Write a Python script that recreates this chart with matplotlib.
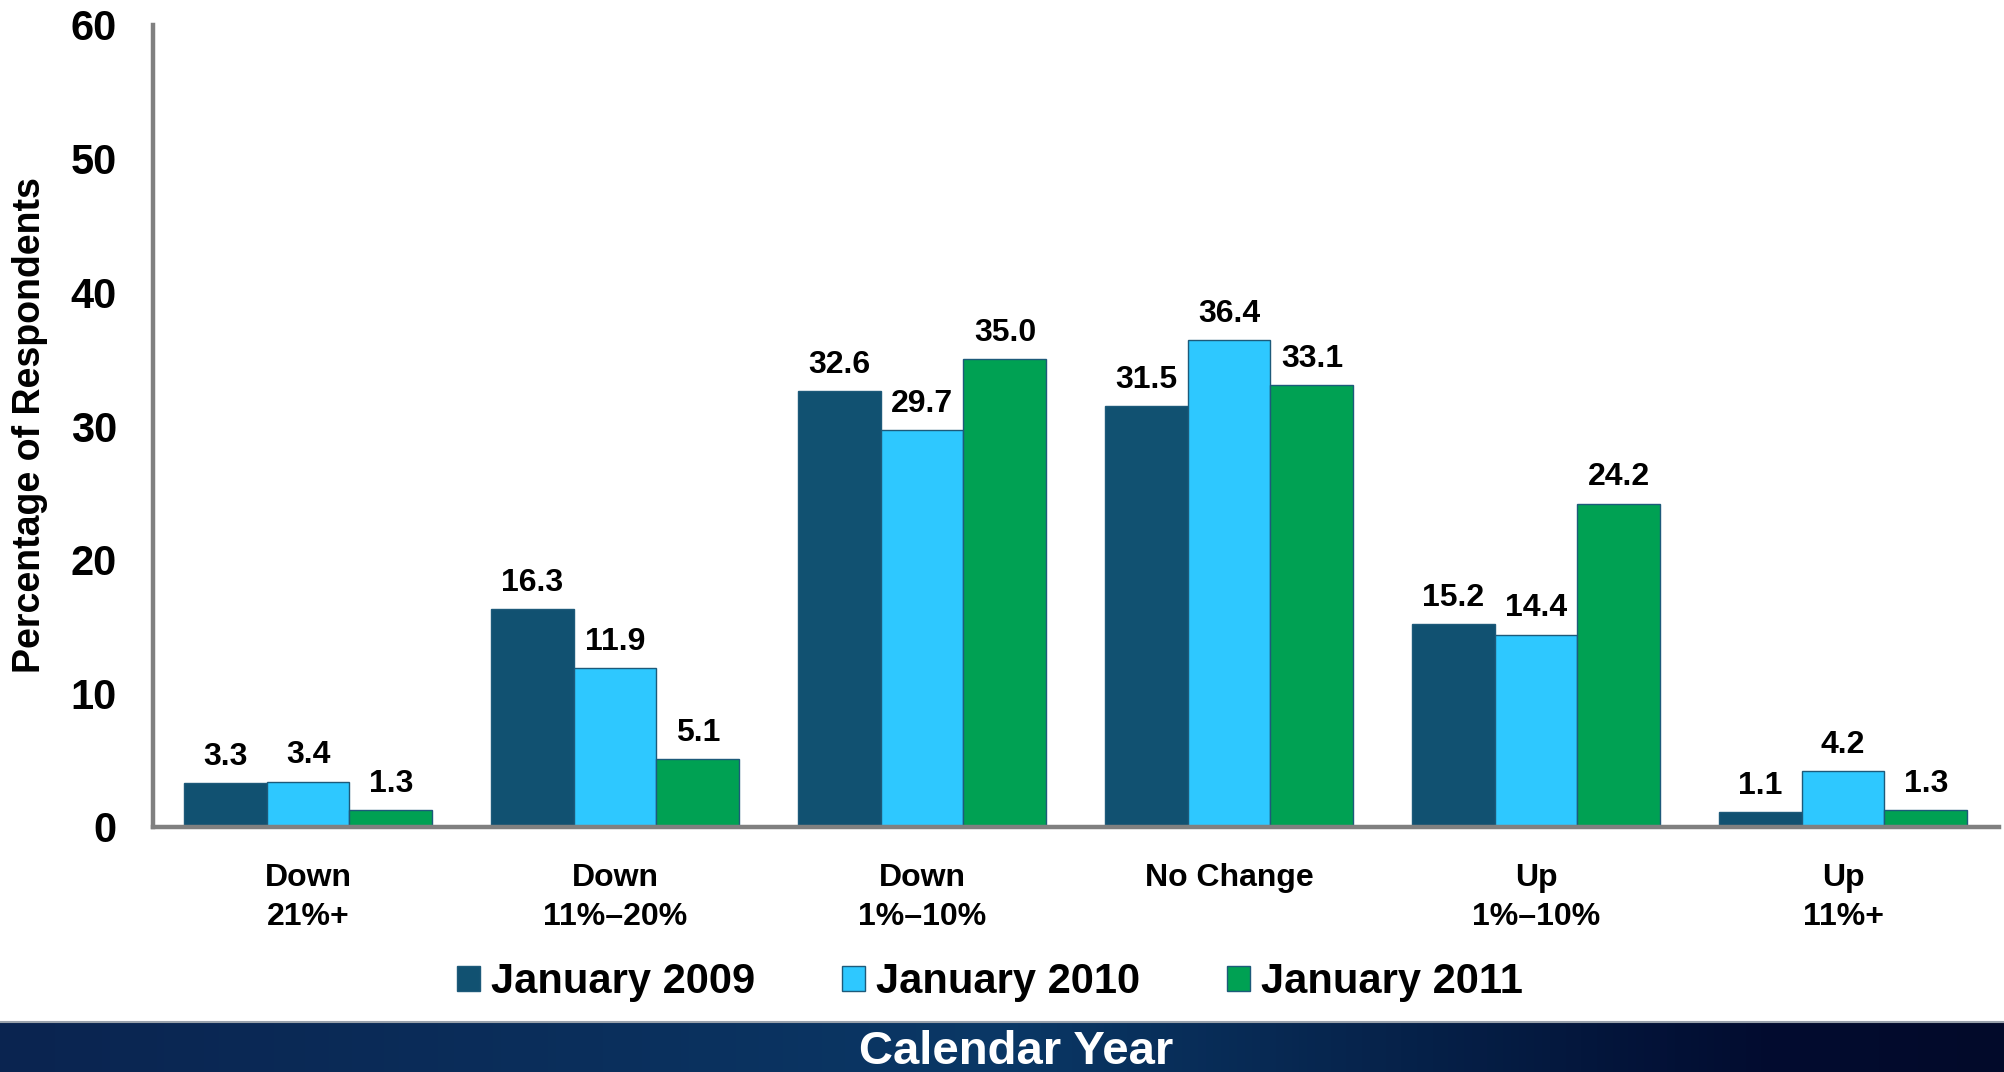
import numpy as np
import matplotlib
matplotlib.use("Agg")
import matplotlib.pyplot as plt
from matplotlib.colors import LinearSegmentedColormap
from matplotlib.lines import Line2D
from matplotlib.patches import Patch
import matplotlib.patheffects as pe

plt.rcParams['font.family'] = ['Liberation Sans', 'DejaVu Sans']
plt.rcParams['font.weight'] = 'bold'

# Survey results: change in percentage of respondents by category
categories = ["Down\n21%+", "Down\n11%–20%", "Down\n1%–10%", "No Change",
              "Up\n1%–10%", "Up\n11%+"]
series_names = ["January 2009", "January 2010", "January 2011"]
jan_2009 = [3.3, 16.3, 32.6, 31.5, 15.2, 1.1]
jan_2010 = [3.4, 11.9, 29.7, 36.4, 14.4, 4.2]
jan_2011 = [1.3, 5.1, 35.0, 33.1, 24.2, 1.3]
y_ticks = [0, 10, 20, 30, 40, 50, 60]

colors = ["#115171", "#2ec8ff", "#00a153"]
edge = "#1d5a7a"

W, H = 2004, 1072
fig = plt.figure(figsize=(W / 100, H / 100), dpi=100)
fig.patch.set_facecolor("white")

ax = fig.add_axes([153 / W, 1 - 827 / H, (1999 - 153) / W, (827 - 25) / H])
x = np.arange(len(categories))
bw = 0.27
for k, (vals, col) in enumerate(zip([jan_2009, jan_2010, jan_2011], colors)):
    pos = x + (k - 1) * bw
    ax.bar(pos, vals, width=bw, color=col, edgecolor=edge, linewidth=1.0,
           zorder=3)
    for px, v in zip(pos, vals):
        ax.annotate(f"{v:.1f}", (px, v), xytext=(0, 13),
                    textcoords="offset points", ha="center", va="baseline",
                    fontsize=23, fontweight="bold", color="black")

ax.set_xlim(-0.505, 5.508)
ax.set_ylim(0, 60)
ax.set_yticks(y_ticks)
ax.set_yticklabels([str(t) for t in y_ticks], fontsize=30, fontweight="bold")
ax.set_xticks(x)
ax.set_xticklabels(categories, fontsize=23, fontweight="bold",
                   linespacing=1.38, multialignment="center")
ax.tick_params(axis="y", length=0, pad=26)
ax.tick_params(axis="x", length=0, pad=26)

for s in ["top", "right"]:
    ax.spines[s].set_visible(False)
for s in ["left", "bottom"]:
    ax.spines[s].set_color("#808080")
    ax.spines[s].set_linewidth(3.2)
    ax.spines[s].set_path_effects([
        pe.SimplePatchShadow(offset=(1.2, -1.2), shadow_rgbFace="#c8c8c8",
                             alpha=1.0),
        pe.Normal()])
    ax.spines[s].set_zorder(4)

fig.text(30 / W, 1 - 425 / H, "Percentage of Respondents", rotation=90,
         ha="center", va="center", fontsize=27, fontweight="bold")

handles = [Patch(facecolor=c, edgecolor=edge, linewidth=1.0) for c in colors]
fig.legend(handles, series_names, loc="center", bbox_to_anchor=(990 / W, 1 - 982 / H),
           ncol=3, frameon=False, handlelength=0.55,
           handleheight=0.55, handletextpad=0.25, columnspacing=2.1,
           prop={"weight": "bold", "size": 30})

# Dark banner along the bottom edge
band_top = 1022
bax = fig.add_axes([0, 0, 1, (H - band_top) / H])
bax.set_axis_off()
band_cmap = LinearSegmentedColormap.from_list(
    "band", [(0.0, "#0a2450"), (0.3, "#0b2f5c"), (0.5, "#0a3866"),
             (0.7, "#06224a"), (0.88, "#020c30"), (1.0, "#020a2a")])
grad = np.linspace(0, 1, 512)[None, :]
bax.imshow(grad, aspect="auto", cmap=band_cmap, extent=(0, 1, 0, 1))
bax.set_xlim(0, 1)
bax.set_ylim(0, 1)
fig.add_artist(Line2D([0, 1], [1 - band_top / H, 1 - band_top / H],
                      transform=fig.transFigure, color="#9aa2ac", linewidth=1.5))
fig.text(1016 / W, 1 - 1064 / H, "Calendar Year", ha="center", va="baseline",
         fontsize=34, fontweight="bold", color="white")

fig.savefig("out.png", dpi=100, facecolor="white")
